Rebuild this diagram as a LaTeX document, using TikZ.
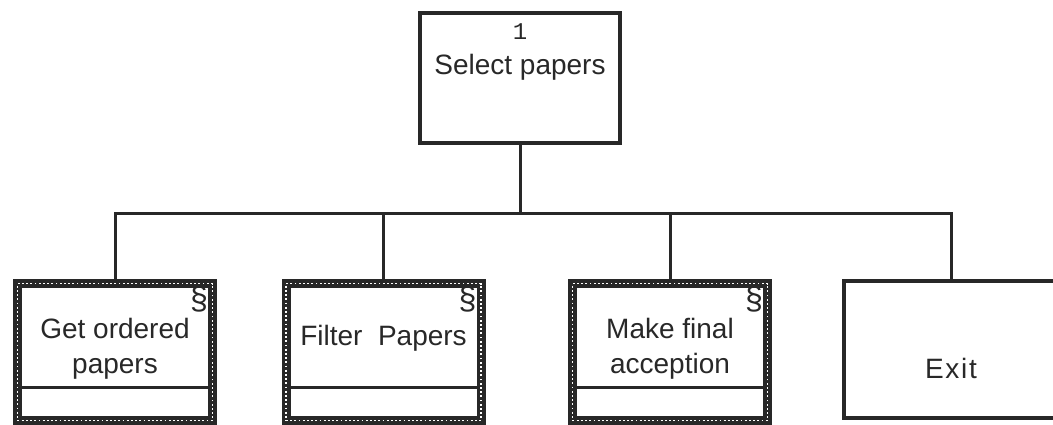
\documentclass[tikz,border=0pt]{standalone}
\usepackage{fontspec}
\setmainfont{Liberation Sans}
\newfontfamily\numfont{Liberation Mono}
\usepackage{xcolor}
\definecolor{inkgray}{RGB}{40,40,40}
\usetikzlibrary{positioning}

\begin{document}
\begin{tikzpicture}[x=1pt, y=-1pt,
  topbox/.style={rectangle, draw=inkgray, line width=4pt, inner sep=0pt,
                 minimum width=200pt, minimum height=130pt},
  modbox/.style={rectangle, draw=inkgray, line width=9pt, inner sep=0pt,
                 minimum width=195pt, minimum height=137pt,
                 postaction={draw=white, line width=1.8pt, dash pattern=on 1.8pt off 2.4pt}},
  exitbox/.style={rectangle, draw=inkgray, line width=4pt, inner sep=0pt,
                  minimum width=214pt, minimum height=137pt},
  boxtext/.style={font=\fontsize{28}{35}\selectfont, align=center, text=inkgray},
  secmark/.style={font=\fontsize{32}{32}\selectfont, text=inkgray, inner sep=0pt, anchor=north east},
  conn/.style={draw=inkgray, line width=3pt},
  divline/.style={draw=inkgray, line width=3pt}
]
\useasboundingbox[fill=white] (0,0) rectangle (1053,424);

% Parent node
\node[topbox] (select) at (520,78) {};
\node[boxtext] (select-txt) at (520,52)
  {{\numfont\fontsize{24}{24}\selectfont 1}\\Select papers};

% Child nodes
\node[modbox]  (get)    at (115,352)   {};
\node[modbox]  (filter) at (383.5,352) {};
\node[modbox]  (accept) at (670,352)   {};
\node[exitbox] (exit)   at (951,349.5) {};

\node[boxtext] (get-txt)    at (115,349)   {Get ordered\\papers};
\node[boxtext] (filter-txt) at (383.5,338) {Filter\ \ Papers};
\node[boxtext] (accept-txt) at (670,349)   {Make final\\acception};
\node[boxtext] (exit-txt)   at (951,368)   {\addfontfeature{LetterSpace=6}Exit};

\node[secmark] (get-sec)    at ([shift={(-9pt,-7pt)}]get.north east)    {\S};
\node[secmark] (filter-sec) at ([shift={(-9pt,-7pt)}]filter.north east) {\S};
\node[secmark] (accept-sec) at ([shift={(-9pt,-7pt)}]accept.north east) {\S};

% Lower compartments
\foreach \b in {get,filter,accept}
  \draw[divline] ([shift={(9pt,38pt)}]\b.south west) -- ([shift={(-9pt,38pt)}]\b.south east);

% Connectors
\coordinate (bus) at (0,213);
\draw[conn] (select.south) -- (select.south |- bus) -| (get.north);
\draw[conn] (select.south |- bus) -| (filter.north);
\draw[conn] (select.south |- bus) -| (accept.north);
\draw[conn] (select.south |- bus) -| (exit.north);
\end{tikzpicture}
\end{document}
